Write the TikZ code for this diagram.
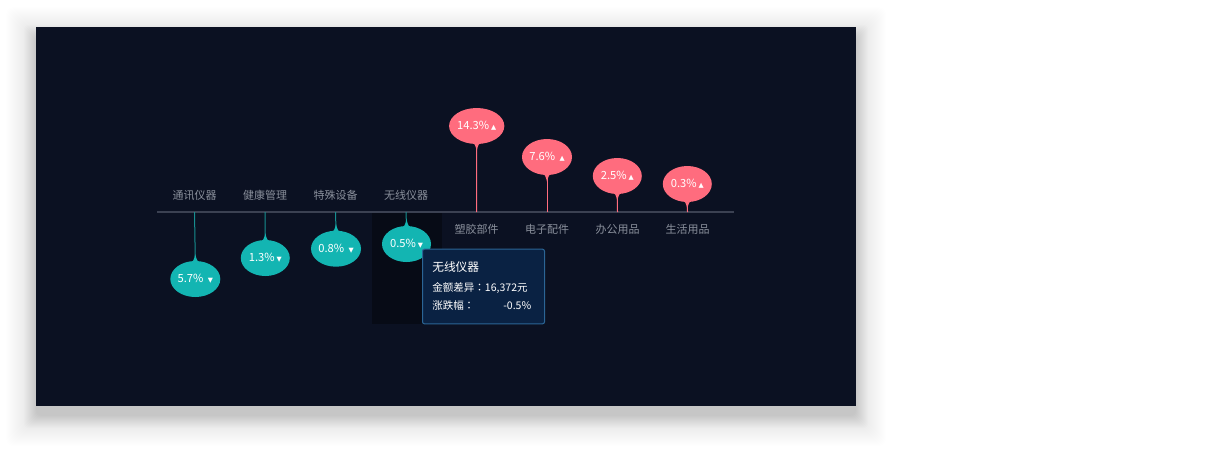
\documentclass[tikz,border=0pt]{standalone}
\usepackage{fontspec}
\setmainfont{Noto Sans CJK SC}
\newfontfamily\symf{DejaVu Sans}
\newfontfamily\tcf{Noto Sans CJK TC}
\usetikzlibrary{shapes.geometric}
\definecolor{bgc}{HTML}{0B1122}
\definecolor{bandc}{HTML}{070B16}
\definecolor{axisc}{HTML}{3B4152}
\definecolor{labc}{HTML}{8A909C}
\definecolor{tealc}{HTML}{13B5B2}
\definecolor{tstemc}{HTML}{178E90}
\definecolor{redc}{HTML}{FF6C7E}
\definecolor{ttfill}{HTML}{0A2243}
\definecolor{ttline}{HTML}{2B6595}
\newcommand{\dn}{{\symf\fontsize{5}{5}\selectfont ▼}}
\newcommand{\up}{{\symf\fontsize{5}{5}\selectfont ▲}}
\tikzset{
  catlab/.style={text=labc, font=\fontsize{8.25}{10}\selectfont, inner sep=0pt},
  tdrop/.style={ellipse, fill=tealc, minimum width=36.75pt, minimum height=27pt, inner sep=0pt, text=white, font=\fontsize{8.4}{10}\selectfont},
  rdrop/.style={ellipse, fill=redc, minimum width=36.75pt, minimum height=27pt, inner sep=0pt, text=white, font=\fontsize{8.4}{10}\selectfont},
  tstem/.style={draw=tstemc, line width=0.75pt},
  rstem/.style={draw=redc, line width=0.75pt},
  ttbox/.style={draw=ttline, fill=ttfill, line width=0.75pt, rounded corners=1.5pt, minimum width=91.5pt, minimum height=56pt, inner sep=0pt},
  tttext/.style={text=white, inner sep=0pt, font=\fontsize{7.9}{10}\selectfont}
}
\newcommand{\tipup}[2]{\fill[#2, shift={(#1.north)}] (-6,3) .. controls (-2,1.5) and (-1,-2) .. (0,-6.5) .. controls (1,-2) and (2,1.5) .. (6,3) -- cycle;}
\newcommand{\tipdn}[2]{\fill[#2, shift={(#1.south)}] (-6,-3) .. controls (-2,-1.5) and (-1,2) .. (0,6.5) .. controls (1,2) and (2,-1.5) .. (6,-3) -- cycle;}
\begin{document}
\begin{tikzpicture}[x=0.75pt,y=-0.75pt]
\useasboundingbox (0,0) rectangle (1230,451);
\fill[white] (0,0) rectangle (1230,451);
% shadow
\foreach \e in {0,1,...,30}{
  \fill[black, opacity=0.0045, rounded corners=6pt] (36-\e,37-\e) rectangle (856+\e,416+\e);
}
\foreach \e in {0,1,...,12}{
  \fill[black, opacity=0.009, rounded corners=3pt] (36-\e,37-\e) rectangle (856+\e,416+\e);
}
% panel
\fill[bgc] (36,27) rectangle (856,406);
% highlight band
\fill[bandc] (371.5,212) rectangle (441.5,323.5);
% axis
\coordinate (axL) at (157,212);
\coordinate (axR) at (734,212);
\draw[axisc, line width=1.1pt] (axL) -- (axR);
% axis points
\coordinate (a1) at (194.5,212);
\coordinate (a2) at (265,212);
\coordinate (a3) at (335.5,212);
\coordinate (a4) at (406,212);
\coordinate (a5) at (476.5,212);
\coordinate (a6) at (547,212);
\coordinate (a7) at (617.5,212);
\coordinate (a8) at (687.5,212);
% category labels
\node[catlab] (l1) at (194.5,195) {通讯仪器};
\node[catlab] (l2) at (265,195) {健康管理};
\node[catlab] (l3) at (335.5,195) {特殊设备};
\node[catlab] (l4) at (406,195) {无线仪器};
\node[catlab] (l5) at (476.5,229) {塑胶部件};
\node[catlab] (l6) at (547,229) {电子配件};
\node[catlab] (l7) at (617.5,229) {办公用品};
\node[catlab] (l8) at (687.5,229) {生活用品};
% teal drops
\node[tdrop] (d1) at (195.3,279) {5.7\%\ \,\dn};
\node[tdrop] (d2) at (265.3,258) {1.3\%\,\dn};
\node[tdrop] (d3) at (336,248.7) {0.8\%\ \,\dn};
\node[tdrop] (d4) at (406.5,244) {0.5\%\,\dn};
\draw[tstem] (a1) -- (d1.north);
\draw[tstem] (a2) -- (d2.north);
\draw[tstem] (a3) -- (d3.north);
\draw[tstem] (a4) -- (d4.north);
\tipup{d1}{tealc}
\tipup{d2}{tealc}
\tipup{d3}{tealc}
\tipup{d4}{tealc}
% red drops
\node[rdrop] (d5) at (476.7,126) {14.3\%\,\up};
\node[rdrop] (d6) at (547,157) {7.6\%\ \,\up};
\node[rdrop] (d7) at (617.3,176) {2.5\%\,\up};
\node[rdrop] (d8) at (687.3,184) {0.3\%\,\up};
\draw[rstem] (a5) -- (d5.south);
\draw[rstem] (a6) -- (d6.south);
\draw[rstem] (a7) -- (d7.south);
\draw[rstem] (a8) -- (d8.south);
\tipdn{d5}{redc}
\tipdn{d6}{redc}
\tipdn{d7}{redc}
\tipdn{d8}{redc}
% tooltip
\node[ttbox] (tt) at (483.5,286.5) {};
\node[tttext, anchor=west, font=\fontsize{8.8}{10}\selectfont] (t1) at (432,267) {无线仪器};
\node[tttext, anchor=west] (t2) at (432,288) {金额差异{\tcf ：}16,372元};
\node[tttext, anchor=west] (t3) at (432,306) {涨跌幅{\tcf ：}};
\node[tttext, anchor=east] (t4) at (531.5,306) {-0.5\%};
\end{tikzpicture}
\end{document}
